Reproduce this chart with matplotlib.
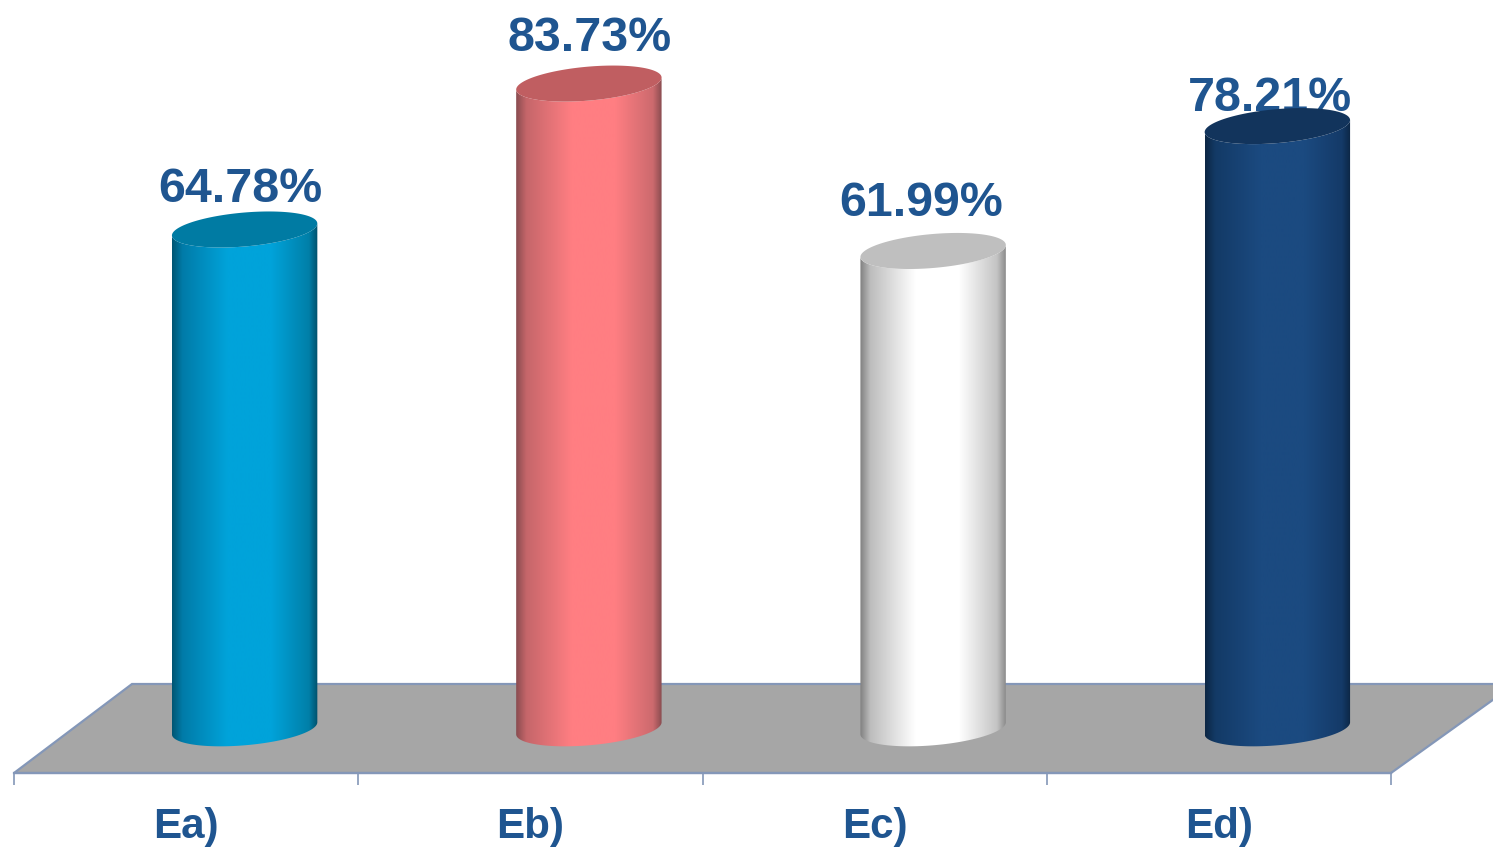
import numpy as np
import matplotlib
matplotlib.use("Agg")
import matplotlib.pyplot as plt
from matplotlib.colors import LinearSegmentedColormap
from matplotlib.patches import Polygon

categories = ["Ea)", "Eb)", "Ec)", "Ed)"]
values = [64.78, 83.73, 61.99, 78.21]
value_labels = ["64.78%", "83.73%", "61.99%", "78.21%"]

# gradient stops across each cylinder, left to right
bar_gradients = [
    ["#005673", "#007ba8", "#00a3da", "#00a3da", "#007fa8", "#00506b"],
    ["#8a4c50", "#c5666a", "#ff7e82", "#ff7e82", "#cc6a6e", "#8a4c50"],
    ["#808080", "#bdbdbd", "#ffffff", "#ffffff", "#c4c4c4", "#8c8c8c"],
    ["#0c2644", "#133a66", "#1b4a80", "#1b4a80", "#143a68", "#0c2644"],
]
gradient_stops = [0, 0.07, 0.38, 0.68, 0.94, 1]
cap_colors = ["#007ba3", "#c05e61", "#bfbfbf", "#12345c"]
# pixel nudges of the value labels (x, y up)
label_nudges = [(-4, 27), (1, 33), (-12, 35), (-7, 15)]

W, H = 1493, 847
LEFT, RIGHT, FLOOR = 14, 1391, 773
px_x = 4 / (RIGHT - LEFT)
px_y = 1 / 7.7
y_low = (728.3 - FLOOR) * px_y

fig = plt.figure(figsize=(W / 100, H / 100), dpi=100)
ax = fig.add_axes([LEFT / W, 1 - FLOOR / H, (RIGHT - LEFT) / W, FLOOR / H])
ax.set_xlim(-0.5, 3.5)
ax.set_ylim(y_low, y_low + FLOOR * px_y)

floor = Polygon(
    [(-0.5, y_low), (3.5, y_low), (3.5 + 124 * px_x, y_low + 89 * px_y),
     (-0.5 + 118 * px_x, y_low + 89 * px_y)],
    closed=True, facecolor="#a6a6a6", edgecolor="#8497b8", linewidth=1.6,
    clip_on=False, zorder=1)
ax.add_patch(floor)

depth = 58.5 * px_x
half_w = 72.7 * px_x
shear = 6 * px_y
minor = 17 * px_y
t = np.linspace(0, np.pi, 80)

for i, value in enumerate(values):
    cx = i + depth
    ex = cx + half_w * np.cos(t)
    # lower and upper halves of the tilted ellipse, right to left
    bottom = np.column_stack([ex, shear * np.cos(t) - minor * np.sin(t)])
    top_low = np.column_stack([ex, value + shear * np.cos(t) - minor * np.sin(t)])
    top_up = np.column_stack([ex, value + shear * np.cos(t) + minor * np.sin(t)])

    body = Polygon(np.vstack([bottom, top_low[::-1]]), closed=True,
                   facecolor="none", edgecolor="none", transform=ax.transData)
    ax.add_patch(body)
    cmap = LinearSegmentedColormap.from_list(
        f"bar{i}", list(zip(gradient_stops, bar_gradients[i])))
    img = ax.imshow(np.linspace(0, 1, 256).reshape(1, -1), cmap=cmap, aspect="auto",
                    extent=[cx - half_w, cx + half_w, -5, value + 5],
                    zorder=3, interpolation="bilinear")
    img.set_clip_path(body)

    cap = Polygon(np.vstack([top_up, top_low[::-1]]), closed=True,
                  facecolor=cap_colors[i], edgecolor="none", zorder=4)
    ax.add_patch(cap)

    nudge = label_nudges[i]
    ax.annotate(value_labels[i], (cx, value), xytext=(nudge[0] * 0.72, nudge[1] * 0.72),
                textcoords="offset points", ha="center", va="baseline",
                family="Liberation Sans", fontweight="bold", fontsize=34.8,
                color="#1f5590", zorder=2, annotation_clip=False)

ax.set_xlim(-0.5, 3.5)
ax.set_ylim(y_low, y_low + FLOOR * px_y)
ax.patch.set_visible(False)

for side in ["top", "left", "right"]:
    ax.spines[side].set_visible(False)
ax.spines["bottom"].set_color("#8497b8")
ax.spines["bottom"].set_linewidth(1.6)
ax.spines["bottom"].set_zorder(2)
ax.set_yticks([])

ax.set_xticks(np.arange(-0.5, 4, 1))
ax.set_xticklabels([])
ax.tick_params(axis="x", which="major", length=8.5, width=1.2, color="#8497b8")
ax.set_xticks(np.arange(len(categories)), minor=True)
ax.set_xticklabels(categories, minor=True, family="Liberation Sans",
                   fontweight="bold", fontsize=30.3, color="#1f5590")
ax.tick_params(axis="x", which="minor", length=0, pad=24.5)

fig.savefig("out.png", dpi=100)
